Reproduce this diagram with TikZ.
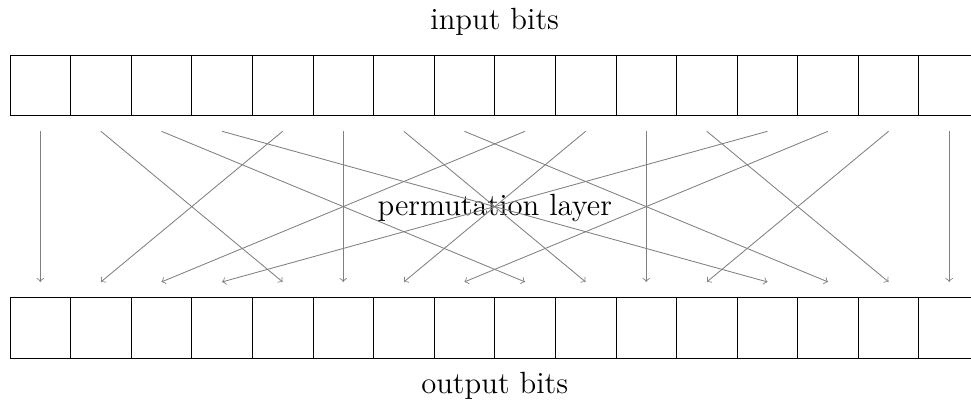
\documentclass[tikz,border=0pt]{standalone}
\begin{document}
\begin{tikzpicture}[
		cell/.style={draw, minimum size=1cm, inner sep=0pt},
		wire/.style={->, gray},
		font=\Large]
		\useasboundingbox (-0.165,-0.71) rectangle (15.86,5.91);
		\foreach \i in {0,...,15}{
			\node[cell] (in\i) at (\i+0.5,4.5) {};
			\node[cell] (out\i) at (\i+0.5,0.5) {};
		}
		\node[anchor=base] (inlabel) at (8,5.43) {input bits};
		\node[anchor=base] (outlabel) at (8,-0.58) {output bits};
		\node[anchor=base] (layer) at (8,2.36) {permutation layer};
		% bit i goes to 4i mod 15, last bit stays
		\foreach \i in {0,...,15}{
			\pgfmathtruncatemacro{\j}{\i==15 ? 15 : mod(4*\i,15)}
			\draw[wire] ([yshift=-0.25cm]in\i.south) -- ([yshift=0.25cm]out\j.north);
		}
	\end{tikzpicture}
\end{document}
